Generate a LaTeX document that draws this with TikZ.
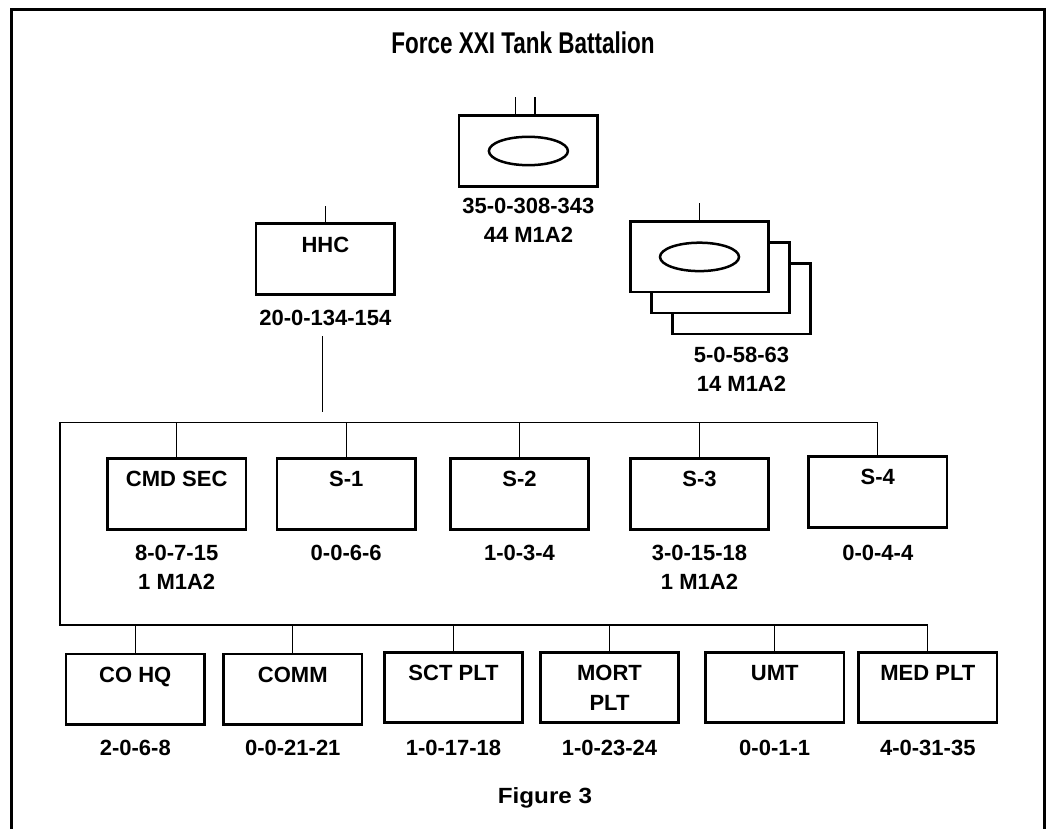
\documentclass[tikz,border=0pt]{standalone}
\usepackage{fontspec}
\setmainfont{Liberation Sans}
\usetikzlibrary{positioning}

\tikzset{
  unit/.style={draw, line width=2.6pt, fill=white, minimum width=138.5pt, minimum height=70.5pt, inner sep=0pt},
  unitname/.style={anchor=north, inner sep=0pt, align=center, font=\bfseries\fontsize{22}{30}\selectfont},
  strength/.style={anchor=north, inner sep=0pt, align=center, font=\bfseries\fontsize{22}{29}\selectfont},
  link/.style={line width=1.3pt},
  armor/.style={line width=2.5pt}
}

\begin{document}
\begin{tikzpicture}[x=1pt, y=-1pt]
        \useasboundingbox (0,0) rectangle (1047,829);
        % frame
        \draw[line width=3pt] (11.5,829) -- (11.5,9.5) -- (1044,9.5) -- (1044,829);
        \node[font=\bfseries\fontsize{30}{36}\selectfont, anchor=base] (title) at (523,54) {\scalebox{0.75}[1]{Force XXI Tank Battalion}};

        % battalion
        \node[unit] (bn) at (528.4,151) {};
        \draw[armor] (bn.center) ellipse [x radius=39.5, y radius=14.2];
        \draw[link] ([xshift=-12.7pt]bn.north) -- ++(0,-17);
        \draw[link] ([xshift=6.6pt]bn.north) -- ++(0,-17);
        \node[strength] (bnstr) at ([yshift=-10pt]bn.south) {35-0-308-343\\44 M1A2};

        % tank companies
        \node[unit] (co3) at (741.5,298.9) {};
        \node[unit] (co2) at (720.5,277.9) {};
        \node[unit] (co1) at (699.5,256.9) {};
        \draw[armor] (co1.center) ellipse [x radius=39.5, y radius=14.2];
        \draw[link] (co1.north) -- ++(0,-17);
        \node[strength] (costr) at ([yshift=-11.5pt]co3.south) {5-0-58-63\\14 M1A2};

        % hhc
        \node[unit] (hhc) at (325.4,259) {};
        \node[unitname] at ([yshift=-14.5pt]hhc.north) {HHC};
        \draw[link] (hhc.north) -- ++(0,-16);
        \node[strength] (hhcstr) at ([yshift=-14.5pt]hhc.south) {20-0-134-154};
        \coordinate (hhcend) at (322.3,412);
        \draw[link] ([yshift=-10pt]hhcstr.south -| hhcend) -- (hhcend);

        % staff sections
        \foreach \n/\x/\y/\t/\s in {cmd/176.7/494/CMD SEC/8-0-7-15\\1 M1A2, s1/346.2/494/S-1/0-0-6-6,
            s2/519.5/494/S-2/1-0-3-4, s3/699.5/494/S-3/3-0-15-18\\1 M1A2, s4/877.8/492/S-4/0-0-4-4} {
          \node[unit] (\n) at (\x,\y) {};
          \node[unitname] (\n name) at ([yshift=-13.5pt]\n.north) {\t};
          \node[strength] (\n str) at (\x,545) {\s};
        }

        % platoons
        \foreach \n/\x/\y/\t/\s in {cohq/135.3/689.2/CO HQ/2-0-6-8, comm/292.8/689.2/COMM/0-0-21-21,
            sct/453.5/687.5/SCT PLT/1-0-17-18, mort/609.5/687.5/MORT\\PLT/1-0-23-24,
            umt/774.7/687.5/UMT/0-0-1-1, med/927.8/687.5/MED PLT/4-0-31-35} {
          \node[unit] (\n) at (\x,\y) {};
          \node[unitname] (\n name) at ([yshift=-14pt]\n.north) {\t};
          \node[strength] (\n str) at (\x,740) {\s};
        }

        % wiring
        \coordinate (bustop) at (60,422.7);
        \coordinate (busbot) at (60,625);
        \draw[link] (s4.north) |- (bustop) -- (busbot) -| (med.north);
        \foreach \n in {cmd,s1,s2,s3} {
          \draw[link] (\n.north) -- (\n.north |- bustop);
        }
        \foreach \n in {cohq,comm,sct,mort,umt} {
          \draw[link] (\n.north) -- (\n.north |- busbot);
        }

        \node[font=\bfseries\fontsize{22}{26}\selectfont, anchor=base] (fig) at (545,803) {\scalebox{1.1}[1]{Figure 3}};
\end{tikzpicture}
\end{document}
